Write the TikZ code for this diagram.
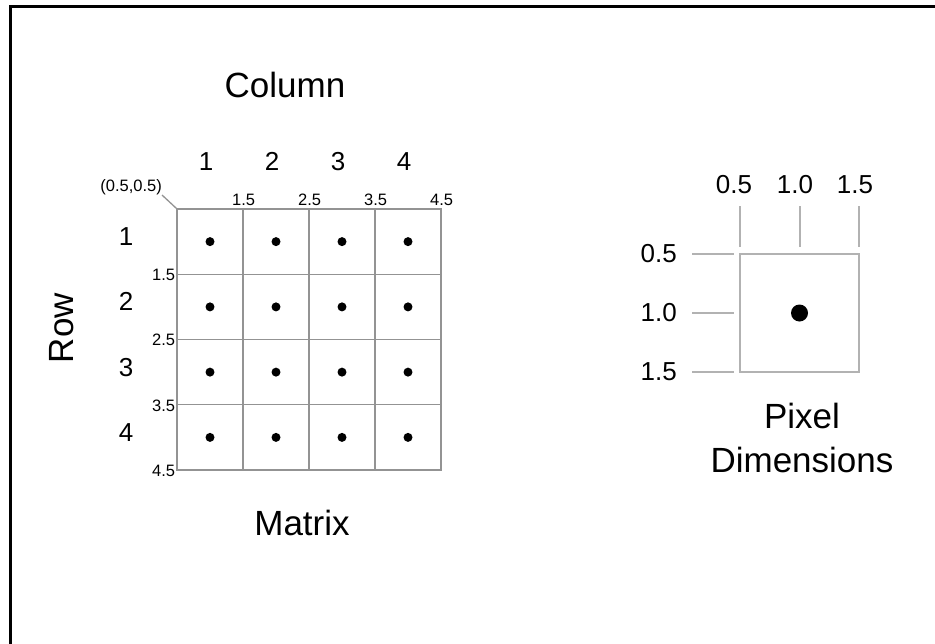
\documentclass[tikz,border=0pt]{standalone}
\usepackage{fontspec}
\setmainfont{Liberation Sans}
\begin{document}
\begin{tikzpicture}[x=1pt,y=-1pt,
  big/.style={font=\fontsize{35}{40}\selectfont, inner sep=0pt},
  idx/.style={font=\fontsize{26}{30}\selectfont, inner sep=0pt},
  tiny/.style={font=\fontsize{16.5}{19}\selectfont, inner sep=0pt},
  gridline/.style={draw=gray!85, line width=1.3pt},
  cell/.style={gridline, minimum width=66pt, minimum height=65.25pt, inner sep=0pt},
  pixline/.style={draw=gray!60, line width=1.8pt},
  frame/.style={line width=3pt}]
\useasboundingbox (0,0) rectangle (935,643);

% outer frame (top and left edges)
\coordinate (fbl) at (10,645);
\coordinate (ftl) at (10,6);
\coordinate (ftr) at (937,6);
\draw[frame] (fbl) -- (ftl) -- (ftr);

% 4x4 matrix of pixels with their centre dots
\foreach \i in {1,...,4} {
  \foreach \j in {1,...,4} {
    \node[cell] (c-\i-\j) at ({177+66*(\j-0.5)},{209+65.25*(\i-0.5)}) {};
    \fill (c-\i-\j.center) circle (4.5pt);
  }
}

% column and row indices
\foreach \j in {1,...,4}
  \node[idx, anchor=base] (col-\j) at ({177+66*(\j-0.5)-4},170) {\j};
\foreach \i in {1,...,4}
  \node[idx, anchor=base] (row-\i) at (126,{209+65.25*(\i-0.5)+4}) {\i};

\node[big, anchor=base] (colttl) at (285,97) {Column};
\node[big, rotate=90] (rowttl) at (61.5,328) {Row};
\node[big, anchor=base] (matttl) at (302,535) {Matrix};

% edge coordinates of the matrix
\node[tiny, anchor=south east] (origin) at (162,195) {(0.5,0.5)};
\draw[gridline] (origin.south east) -- (c-1-1.north west);
\node[tiny, anchor=base] (tx1) at (c-1-1.north east |- 0,205) {1.5};
\node[tiny, anchor=base] (tx2) at (c-1-2.north east |- 0,205) {2.5};
\node[tiny, anchor=base] (tx3) at (c-1-3.north east |- 0,205) {3.5};
\node[tiny, anchor=base] (tx4) at (c-1-4.north east |- 0,205) {4.5};
\node[tiny, anchor=east] (ty1) at ([xshift=-1pt]c-1-1.south west) {1.5};
\node[tiny, anchor=east] (ty2) at ([xshift=-1pt]c-2-1.south west) {2.5};
\node[tiny, anchor=east] (ty3) at ([xshift=-1pt]c-3-1.south west) {3.5};
\node[tiny, anchor=east] (ty4) at ([xshift=-1pt]c-4-1.south west) {4.5};

% single pixel with its dimensions
\node[pixline, minimum width=119pt, minimum height=118pt, inner sep=0pt] (px) at (799.5,313) {};
\fill (px.center) circle (8.5pt);

\foreach \x/\n in {740/a,800/b,859/c} {
  \coordinate (tt\n) at (\x,206);
  \coordinate (tb\n) at (\x,247);
  \draw[pixline] (tt\n) -- (tb\n);
}
\foreach \y/\n in {254/a,313/b,372/c} {
  \coordinate (ll\n) at (692,\y);
  \coordinate (lr\n) at (734,\y);
  \draw[pixline] (ll\n) -- (lr\n);
}

\node[idx, anchor=base] (pxa) at (734,193) {0.5};
\node[idx, anchor=base] (pxb) at (795,193) {1.0};
\node[idx, anchor=base] (pxc) at (855,193) {1.5};
\node[idx, anchor=east] (pya) at (677,254) {0.5};
\node[idx, anchor=east] (pyb) at (677,313) {1.0};
\node[idx, anchor=east] (pyc) at (677,372) {1.5};

\node[big, anchor=base] (pxttl1) at (802,428) {Pixel};
\node[big, anchor=base] (pxttl2) at (802,472) {Dimensions};
\end{tikzpicture}
\end{document}
